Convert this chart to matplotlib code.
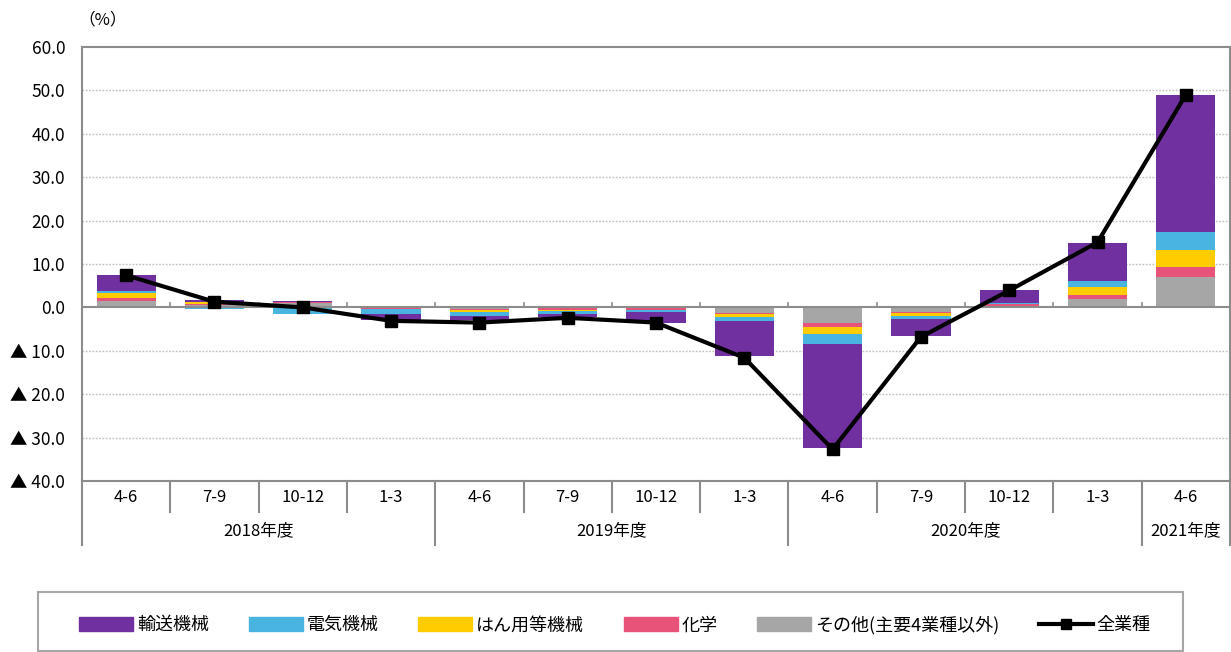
import numpy as np
import matplotlib
matplotlib.use("Agg")
import matplotlib.pyplot as plt
from matplotlib.patches import Rectangle
from matplotlib.lines import Line2D
import matplotlib.transforms as mtransforms

plt.rcParams['font.family'] = ['Noto Sans CJK JP', 'DejaVu Sans']

# 四半期ラベルと年度
quarters = ["4-6", "7-9", "10-12", "1-3", "4-6", "7-9", "10-12", "1-3",
            "4-6", "7-9", "10-12", "1-3", "4-6"]
years = ["2018年度", "2019年度", "2020年度", "2021年度"]
year_spans = [(0, 4), (4, 8), (8, 12), (12, 13)]

# 寄与度（%）
sonota = [1.4, 0.5, 1.0, -0.2, -0.3, -0.2, -0.2, -1.2, -3.6, -1.0, 0.3, 2.0, 7.0]
kagaku = [0.8, 0.3, 0.3, -0.1, -0.4, -0.4, -0.3, -0.3, -1.0, -0.4, 0.4, 0.8, 2.3]
hanyou = [1.1, 0.5, 0.0, -0.1, -0.3, -0.2, -0.2, -0.8, -1.5, -0.6, 0.1, 1.8, 4.0]
denki = [0.4, -0.3, -1.5, -1.2, -1.0, -0.7, -0.3, -0.9, -2.4, -0.7, 0.3, 1.5, 4.1]
yusou = [3.7, 0.3, 0.2, -1.4, -1.0, -0.6, -2.5, -8.0, -23.8, -3.8, 2.8, 8.8, 31.6]
zengyoshu = [7.4, 1.3, 0.0, -3.1, -3.5, -2.4, -3.5, -11.6, -32.7, -6.8, 3.9, 15.0, 49.0]

W, H = 1231, 652
fig = plt.figure(figsize=(W / 100, H / 100), dpi=100)
ax = fig.add_axes([82 / W, 1 - 481 / H, (1230 - 82) / W, (481 - 47) / H])

x = np.arange(len(quarters))
series = [
    (sonota, "#A6A6A6", "その他(主要4業種以外)"),
    (kagaku, "#E8537A", "化学"),
    (hanyou, "#FFCC00", "はん用等機械"),
    (denki, "#48B4DF", "電気機械"),
    (yusou, "#7030A0", "輸送機械"),
]

pos_base = np.zeros(len(x))
neg_base = np.zeros(len(x))
for vals, col, lab in series:
    v = np.array(vals)
    base = np.where(v >= 0, pos_base, neg_base)
    ax.bar(x, v, width=0.67, bottom=base, color=col, zorder=2)
    pos_base = pos_base + np.where(v >= 0, v, 0)
    neg_base = neg_base + np.where(v < 0, v, 0)

ax.plot(x, zengyoshu, color="black", lw=3, marker="s", ms=8, zorder=4)

ax.set_xlim(-0.5, len(x) - 0.5)
ax.set_ylim(-40, 60)
yt = np.arange(-40, 61, 10)
ax.set_yticks(yt)
ax.set_yticklabels([f"{t:.1f}" if t >= 0 else f"▲ {-t:.1f}" for t in yt], fontsize=12.5)
ax.tick_params(axis="y", length=0, pad=12)
ax.set_xticks([])
for t in yt:
    if t not in (0, 60, -40):
        ax.axhline(t, color="#BFBFBF", lw=1, ls=(0, (1.2, 1.2)), zorder=1)
ax.axhline(0, color="#8C8C8C", lw=1.5, zorder=3)
for s in ax.spines.values():
    s.set_color("#8C8C8C")
    s.set_linewidth(1.5)

# 0線上の小さな目盛
for b in np.arange(0.5, len(x) - 1, 1):
    ax.plot([b, b], [0, 1.0], color="#8C8C8C", lw=1.2, zorder=3)

# 横軸ラベル（2段）
tr = mtransforms.blended_transform_factory(ax.transData, ax.transAxes)
for i, q in enumerate(quarters):
    ax.text(i, -0.037, q, transform=tr, ha="center", va="center", fontsize=12)
for i in range(len(x) + 1):
    b = i - 0.5
    is_group = b in (-0.5, 3.5, 7.5, 11.5, 12.5)
    y2 = -0.1475 if is_group else -0.0714
    ax.plot([b, b], [0, y2], transform=tr, color="#8C8C8C", lw=1.5, clip_on=False)
for yl, (a, b) in zip(years, year_spans):
    ax.text((a + b - 1) / 2, -0.115, yl, transform=tr, ha="center", va="center", fontsize=12)

fig.text(103 / W, 1 - 20 / H, "（%）", ha="center", va="center", fontsize=12)

# 凡例
fig.patches.append(Rectangle((38 / W, 1 - 651 / H), (1183 - 38) / W, (651 - 592) / H,
                             transform=fig.transFigure, fill=False,
                             edgecolor="#A6A6A6", lw=1.5))
handles = [Rectangle((0, 0), 1, 1, color=c) for _, c, _ in series[::-1]]
labels = [l for _, _, l in series[::-1]]
handles.append(Line2D([], [], color="black", lw=3, marker="s", ms=7))
labels.append("全業種")
fig.legend(handles, labels, loc="center", bbox_to_anchor=(615 / W, 1 - 625 / H),
           ncol=6, frameon=False, fontsize=13, handlelength=3.0, handleheight=0.8,
           handletextpad=0.2, columnspacing=2.2)

fig.savefig("out.png", dpi=100)
